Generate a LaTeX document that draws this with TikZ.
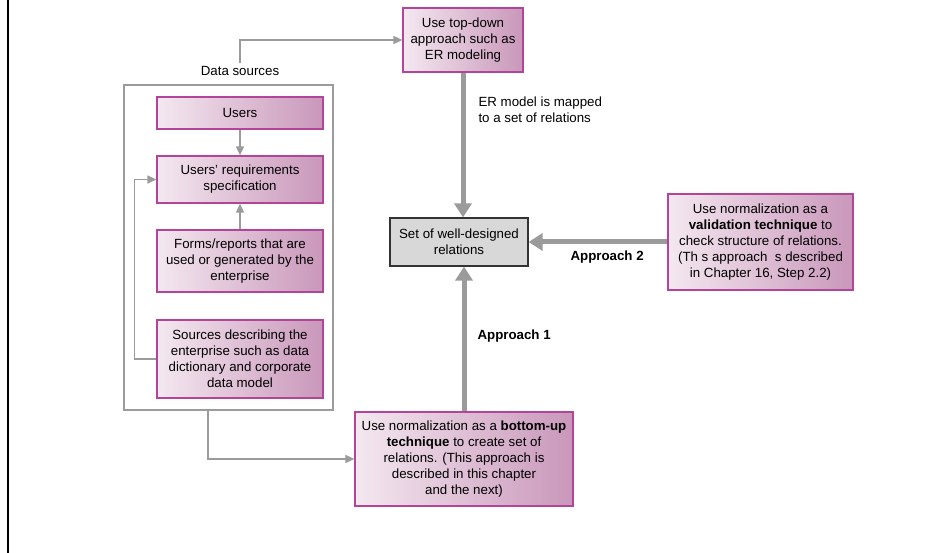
\documentclass[tikz,border=0pt]{standalone}
\usepackage{fontspec}
\setmainfont{Liberation Sans}
\usetikzlibrary{arrows.meta}

\definecolor{boxleft}{HTML}{F4E8F0}
\definecolor{boxright}{HTML}{C997BA}
\definecolor{boxline}{HTML}{B3449A}
\definecolor{arrowgray}{HTML}{9B9B9B}
\definecolor{relgray}{HTML}{D8D8D8}

\begin{document}
\begin{tikzpicture}[x=1pt,y=-1pt,
    font=\fontsize{13.3}{16}\selectfont]

        \useasboundingbox (0,0) rectangle (952,553);
        \draw[line width=2.5pt] (8,0) -- (8,553);

        % data sources frame
        \node[draw=arrowgray,line width=1.5pt,minimum width=209pt,
              minimum height=325pt,inner sep=0pt] (frame) at (228.5,247.5) {};
        \node (dslabel) at (240,71) {Data sources};

        \begin{scope}[every node/.style={draw=boxline,line width=1.2pt,
              left color=boxleft,right color=boxright,align=center,inner sep=0pt}]
          \node[minimum width=120pt,minimum height=64pt] (topdown) at (463,40)
            {Use top-down\\approach such as\\ER modeling};
          \node[minimum width=166pt,minimum height=32pt] (users) at (240,113)
            {Users};
          \node[minimum width=166pt,minimum height=47pt] (req) at (240,179.5)
            {Users' requirements\\specification};
          \node[minimum width=166pt,minimum height=62pt] (forms) at (240,261)
            {Forms/reports that are\\used or generated by the\\enterprise};
          \node[minimum width=166pt,minimum height=78pt] (sources) at (240,359)
            {Sources describing the\\enterprise such as data\\dictionary and corporate\\data model};
          \node[minimum width=185pt,minimum height=96pt] (validate) at (760.5,242)
            {Use normalization as a\\\textbf{validation technique} to\\check structure of relations.\\(Th s approach\ \ s described\\in Chapter 16, Step 2.2)};
          \node[minimum width=218pt,minimum height=94pt] (bottomup) at (464,459)
            {Use normalization as a \textbf{bottom-up}\\\textbf{technique} to create set of\\relations. (This approach is\\described in this chapter\\and the next)};
        \end{scope}

        \node[draw=black!80,line width=1.2pt,fill=relgray,align=center,
              minimum width=138pt,minimum height=48pt,inner sep=0pt] (rel) at (459,242)
          {Set of well-designed\\relations};

        % thin connectors
        \begin{scope}[arrowgray,line width=1.5pt,-{Triangle[length=9pt,width=8pt]}]
          \draw (dslabel.north) |- (topdown.west);
          \draw (users) -- (req);
          \draw (forms) -- (req);
          \draw (sources.west) -- ++(-22,0) |- (req.west);
          \draw ([xshift=-20.5pt]frame.south) |- (bottomup.west);
        \end{scope}

        % thick connectors
        \begin{scope}[arrowgray,line width=5pt,-{Triangle[length=14pt,width=17pt]}]
          \draw (topdown.south) -- (topdown.south |- rel.north);
          \draw (validate.west) -- (rel.east);
          \draw (bottomup.north) -- (bottomup.north |- rel.south);
        \end{scope}

        \node[anchor=west,align=left] (maplabel) at (475,109.5)
          {ER model is mapped\\to a set of relations};
        \node[anchor=west,font=\fontsize{13.3}{16}\selectfont\bfseries] (app1) at (474,336) {Approach 1};
        \node[anchor=west,font=\fontsize{13.3}{16}\selectfont\bfseries] (app2) at (567,257) {Approach 2};

      \end{tikzpicture}
\end{document}
